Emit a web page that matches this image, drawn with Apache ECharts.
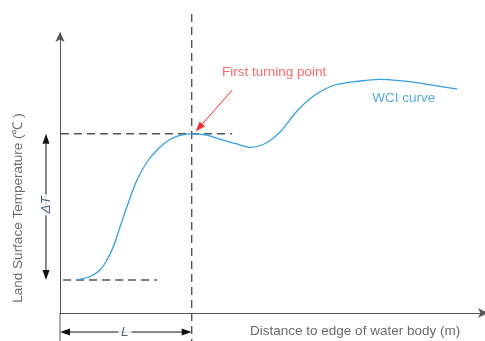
<!DOCTYPE html>
<html>
<head>
<meta charset="utf-8">
<style>
  html, body { margin: 0; padding: 0; background: #fff; }
  #chart { width: 485px; height: 341px; }
</style>
<script src="https://cdn.jsdelivr.net/npm/echarts@6/dist/echarts.min.js"></script>
</head>
<body>
<div id="chart"></div>
<script>
// WCI curve: land surface temperature vs. distance to water edge (schematic units)
const curveX = [4.01, 7.08, 9.43, 11.08, 12.74, 14.39, 16.27, 18.16, 20.52, 23.11, 25.71, 28.30, 31.06,
                34.20, 37.26, 41.27, 44.81, 47.64, 50.0, 52.36, 56.13, 60.14, 64.86, 70.75, 75.47, 80.19, 86.56, 93.63];
const curveY = [11.79, 13.04, 15.36, 18.93, 24.29, 31.79, 40.0, 47.5, 53.93, 58.57, 61.79, 63.45, 64.0,
                63.6, 62.32, 60.54, 59.18, 60.0, 62.14, 65.36, 72.5, 77.86, 81.43, 82.86, 83.46, 82.96, 81.68, 80.0];

// key levels of the diagram
const turnX = 31.06;     // first turning point distance (L)
const turnY = 64.0;      // temperature at the turning point
const baseY = 11.8;      // temperature at the water edge
const deltaX = -3.3;     // position of the ΔT dimension line
const lenY = -6.8;       // position of the L dimension line

// dashed guide segments [x1, y1, x2, y2]
const guideTop = [-5.9, turnY, 40.6, turnY];
const guideBase = [-5.4, baseY, 22.9, baseY];
const guideVert = [turnX, 106.8, turnX, -10];
const yAxisTail = [0, 0, 0, -10];

// dimension arrows [x1, y1, x2, y2]
const dimArrows = [
  [deltaX, turnY, deltaX, baseY],
  [0, lenY, turnX, lenY]
];
const pointerArrow = [[40.6, 79.6, 32.0, 64.8]];

// text annotations [x, y, text]
const annotations = {
  turning: [50.5, 85.9, 'First turning point'],
  wci: [81.1, 76.6, 'WCI curve'],
  xTitle: [69.6, -6.4, 'Distance to edge of water body (m)'],
  yTitle: [-9.9, 37.5, 'Land Surface Temperature (℃ )'],
  deltaT: [deltaX, 38.6, 'ΔT'],
  len: [15.3, lenY, 'L']
};

const FONT = 'Liberation Sans, Arial, sans-serif';
const DASH = [8, 5];
const DASH_COLOR = '#555';

function seg(s) { return [[s[0], s[1]], [s[2], s[3]]]; }

function dashSeries(s) {
  return {
    type: 'line', data: seg(s), symbol: 'none', clip: false, silent: true,
    lineStyle: { color: DASH_COLOR, width: 1.4, type: DASH }, z: 3
  };
}

// Smooth curve through the points: Catmull-Rom spline in pixel space
function curveSeries() {
  return {
    type: 'custom', name: 'WCI curve', clip: false, silent: true, z: 4,
    data: [0],
    renderItem: function (params, api) {
      const pts = curveX.map((x, i) => api.coord([x, curveY[i]]));
      const n = pts.length;
      let d = 'M' + pts[0][0] + ' ' + pts[0][1];
      for (let i = 0; i < n - 1; i++) {
        const p0 = pts[Math.max(i - 1, 0)], p1 = pts[i], p2 = pts[i + 1], p3 = pts[Math.min(i + 2, n - 1)];
        const c1 = [p1[0] + (p2[0] - p0[0]) / 6, p1[1] + (p2[1] - p0[1]) / 6];
        const c2 = [p2[0] - (p3[0] - p1[0]) / 6, p2[1] - (p3[1] - p1[1]) / 6];
        d += ' C' + c1[0] + ' ' + c1[1] + ' ' + c2[0] + ' ' + c2[1] + ' ' + p2[0] + ' ' + p2[1];
      }
      return {
        type: 'path',
        shape: { pathData: d },
        style: { fill: null, stroke: '#33a0e4', lineWidth: 1.3 }
      };
    }
  };
}

function arrowSeries(rows, color, headLen, headW, twoHeads) {
  return {
    type: 'custom', clip: false, silent: true, z: 5,
    data: rows,
    renderItem: function (params, api) {
      const p1 = api.coord([api.value(0), api.value(1)]);
      const p2 = api.coord([api.value(2), api.value(3)]);
      const dx = p2[0] - p1[0], dy = p2[1] - p1[1];
      const d = Math.sqrt(dx * dx + dy * dy);
      const ux = dx / d, uy = dy / d, nx = -uy, ny = ux;
      function head(tip, dir) {
        const bx = tip[0] - dir * ux * headLen, by = tip[1] - dir * uy * headLen;
        return {
          type: 'polygon',
          shape: { points: [tip, [bx + nx * headW / 2, by + ny * headW / 2], [bx - nx * headW / 2, by - ny * headW / 2]] },
          style: { fill: color }
        };
      }
      const start = twoHeads ? [p1[0] + ux * headLen, p1[1] + uy * headLen] : p1;
      const end = [p2[0] - ux * headLen, p2[1] - uy * headLen];
      const children = [{
        type: 'line',
        shape: { x1: start[0], y1: start[1], x2: end[0], y2: end[1] },
        style: { stroke: color, lineWidth: 1 }
      }, head(p2, 1)];
      if (twoHeads) children.push(head(p1, -1));
      return { type: 'group', children: children };
    }
  };
}

function textSeries(a, style) {
  return {
    type: 'scatter', data: [[a[0], a[1]]], symbolSize: 0, clip: false, silent: true, z: 6,
    label: Object.assign({
      show: true, position: 'inside', formatter: a[2],
      fontFamily: FONT, fontSize: 13.5
    }, style)
  };
}

const chart = echarts.init(document.getElementById('chart'), null, { renderer: 'canvas' });
chart.setOption({
  animation: false,
  backgroundColor: '#fff',
  grid: { left: 60, top: 33, right: 1, bottom: 28 },
  xAxis: {
    type: 'value', min: 0, max: 100,
    axisLine: { show: true, symbol: ['none', 'arrow'], symbolSize: [7, 10], symbolOffset: [0, 4],
      lineStyle: { color: '#555', width: 1 } },
    axisTick: { show: false }, axisLabel: { show: false }, splitLine: { show: false }
  },
  yAxis: {
    type: 'value', min: 0, max: 100,
    axisLine: { show: true, symbol: ['none', 'arrow'], symbolSize: [7, 10], symbolOffset: [0, 1],
      lineStyle: { color: '#555', width: 1 } },
    axisTick: { show: false }, axisLabel: { show: false }, splitLine: { show: false }
  },
  series: [
    curveSeries(),
    dashSeries(guideTop),
    dashSeries(guideBase),
    dashSeries(guideVert),
    {
      type: 'line', data: seg(yAxisTail), symbol: 'none', clip: false, silent: true,
      lineStyle: { color: '#555', width: 1 }
    },
    arrowSeries(dimArrows, '#111', 10, 7, true),
    arrowSeries(pointerArrow, '#f52a2a', 10, 7, false),
    textSeries(annotations.turning, { color: '#f24545' }),
    textSeries(annotations.wci, { color: '#2a93d6' }),
    textSeries(annotations.xTitle, { color: '#444' }),
    textSeries(annotations.yTitle, { color: '#444', rotate: 90 }),
    textSeries(annotations.deltaT, { color: '#1e3a5c', rotate: 90, fontStyle: 'italic',
      backgroundColor: '#fff', padding: [0, 2] }),
    textSeries(annotations.len, { color: '#1e3a5c', fontStyle: 'italic',
      backgroundColor: '#fff', padding: [0, 3] })
  ]
});
</script>
</body>
</html>
